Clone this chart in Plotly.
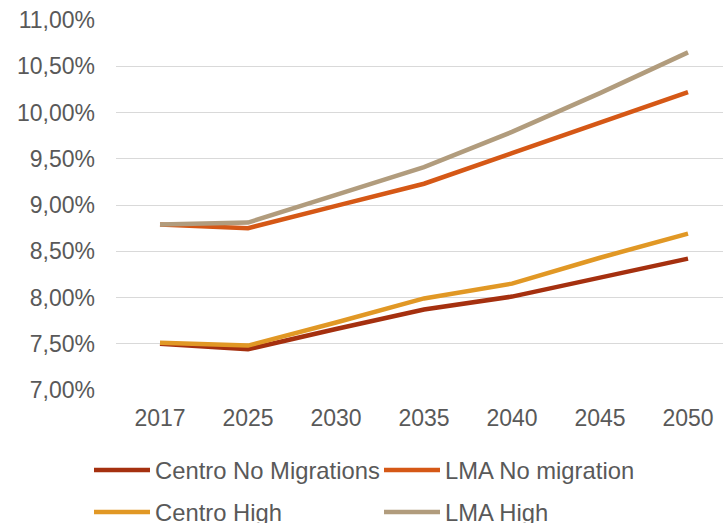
import plotly.graph_objects as go

years = ["2017", "2025", "2030", "2035", "2040", "2045", "2050"]
centro_no_mig = [0.0750, 0.0744, 0.0766, 0.0787, 0.0801, 0.0822, 0.0842]
lma_no_mig = [0.0879, 0.0875, 0.0899, 0.0923, 0.0956, 0.0989, 0.1022]
centro_high = [0.0751, 0.0748, 0.0773, 0.0799, 0.0815, 0.0843, 0.0869]
lma_high = [0.0879, 0.0881, 0.0911, 0.0941, 0.0979, 0.1021, 0.1065]

series = [
    ("Centro No Migrations", centro_no_mig, "#A5300F", "legend"),
    ("LMA No migration", lma_no_mig, "#D55816", "legend2"),
    ("Centro High", centro_high, "#E19825", "legend3"),
    ("LMA High", lma_high, "#B19C7D", "legend4"),
]

fig = go.Figure()
for name, vals, color, lg in series:
    fig.add_trace(go.Scatter(
        x=years, y=vals, name=name, mode="lines",
        line=dict(color=color, width=4.5),
        legend=lg, showlegend=True,
    ))

font = dict(family="Liberation Sans, Arial, sans-serif", size=23, color="#595959")
lfont = dict(family="Liberation Sans, Arial, sans-serif", size=23.8, color="#595959")
plot_w = 723 - 116


def leg(px, py):
    return dict(
        orientation="h", xref="container", yref="container",
        x=px / 723, xanchor="left", y=1 - py / 523, yanchor="middle",
        itemwidth=56, font=lfont, bgcolor="rgba(0,0,0,0)",
    )


fig.update_layout(
    width=723, height=523,
    showlegend=True,
    margin=dict(l=116, r=0, t=20, b=133),
    paper_bgcolor="white", plot_bgcolor="white",
    separators=",.",
    font=font,
    xaxis=dict(
        type="category",
        range=[-0.5, -0.5 + plot_w / 88.0],
        showgrid=False, zeroline=False, showline=False,
        ticks="", ticklabelstandoff=12,
        tickfont=font,
    ),
    yaxis=dict(
        range=[0.07, 0.11],
        dtick=0.005, tick0=0.07,
        tickformat=".2%",
        showgrid=True, gridcolor="#D9D9D9", gridwidth=1.3,
        zeroline=False, showline=False,
        ticks="", ticklabelstandoff=20,
        tickfont=font,
    ),
    legend=leg(89, 470),
    legend2=leg(379, 470),
    legend3=leg(89, 512),
    legend4=leg(379, 512),
)

fig.write_html("out.html")
